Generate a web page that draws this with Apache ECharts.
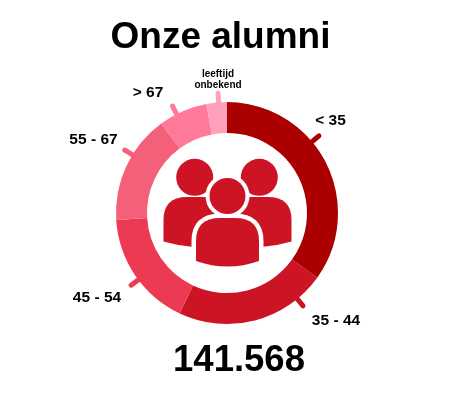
<!DOCTYPE html>
<html>
<head>
<meta charset="utf-8">
<style>html,body{margin:0;padding:0;background:#fff}#c{width:450px;height:397px}</style>
<script src="https://cdn.jsdelivr.net/npm/echarts@6/dist/echarts.min.js"></script>
</head>
<body>
<div id="c"></div>
<script>
const categories = ['< 35', '35 - 44', '45 - 54', '55 - 67', '> 67', 'leeftijd\nonbekend'];
const shares = [34.9, 22.1, 17.0, 15.9, 7.1, 3.0];
const colours = ['#AA0000', '#CC1424', '#EC3A52', '#F4607A', '#FF7A98', '#FFA0BC'];
const titleText = 'Onze alumni';
const totalText = '141.568';

const tickAngles = [50, 140.7, 233, 301.6, 333, 355.7];
const labelCentres = [[330.5, 121], [336, 320.5], [97, 297.5], [93.5, 139.5], [148, 93], [218, 80]];
const cx = 227, cy = 213, rOuter = 111, rInner = 80, rTick = 120;
const iconRed = '#CC1424';

function polar(r, deg) {
  const a = deg * Math.PI / 180;
  return [cx + r * Math.sin(a), cy - r * Math.cos(a)];
}

const leftBody = 'M163.5,241.5 L163.5,220 Q163.5,197 187,197 L215,197 L215,247 L191.7,246.7 Q177,245.5 163.5,241.5 Z';
const rightBody = 'M291.5,241.5 L291.5,220 Q291.5,197 268,197 L240,197 L240,247 L263.3,246.7 Q278,245.5 291.5,241.5 Z';
const midBody = 'M196,261 L196,241 Q196,218 220,218 L235,218 Q259,218 259,241 L259,261 Q227.5,272 196,261 Z';

function renderIcon() {
  return {
    type: 'group',
    children: [
      { type: 'circle', shape: { cx: 194.7, cy: 177.3, r: 18.5 }, style: { fill: iconRed } },
      { type: 'circle', shape: { cx: 259.3, cy: 177.3, r: 18.5 }, style: { fill: iconRed } },
      { type: 'path', shape: { pathData: leftBody }, style: { fill: iconRed } },
      { type: 'path', shape: { pathData: rightBody }, style: { fill: iconRed } },
      { type: 'path', shape: { pathData: midBody }, style: { fill: '#fff', stroke: '#fff', lineWidth: 9 } },
      { type: 'path', shape: { pathData: midBody }, style: { fill: iconRed } },
      { type: 'circle', shape: { cx: 227.5, cy: 196, r: 22 }, style: { fill: '#fff' } },
      { type: 'circle', shape: { cx: 227.5, cy: 196, r: 18 }, style: { fill: iconRed } }
    ]
  };
}

const chart = echarts.init(document.getElementById('c'), null, { renderer: 'canvas' });
chart.setOption({
  animation: false,
  backgroundColor: '#fff',
  title: [
    { text: titleText, left: 215.5, top: 33, textAlign: 'center', textVerticalAlign: 'middle',
      textStyle: { fontFamily: 'Liberation Sans', fontWeight: 'bold', fontSize: 37, color: '#000' } },
    { text: totalText, left: 234, top: 356, textAlign: 'center', textVerticalAlign: 'middle',
      textStyle: { fontFamily: 'Liberation Sans', fontWeight: 'bold', fontSize: 36.5, color: '#000' } }
  ],
  series: [{
    type: 'pie',
    center: [cx, cy],
    radius: [rInner, rOuter],
    startAngle: 90,
    clockwise: true,
    silent: true,
    data: categories.map((name, i) => ({
      name, value: shares[i],
      itemStyle: { color: colours[i] },
      label: i === 5 ? { fontSize: 10, lineHeight: 11 } : {}
    })),
    label: {
      show: true, position: 'outside', formatter: '{b}',
      fontFamily: 'Liberation Sans', fontWeight: 'bold', fontSize: 15.5, color: '#000'
    },
    labelLine: { show: true, length: 8, length2: 4, lineStyle: { width: 5, cap: 'round' } },
    labelLayout: function (p) {
      const i = p.dataIndex, a = tickAngles[i];
      return {
        x: labelCentres[i][0], y: labelCentres[i][1],
        align: 'center', verticalAlign: 'middle', hideOverlap: false,
        labelLinePoints: [polar(rOuter - 1, a), polar((rOuter + rTick) / 2, a), polar(rTick, a)]
      };
    }
  }, {
    type: 'custom',
    coordinateSystem: 'none',
    silent: true,
    z: 5,
    data: [0],
    renderItem: renderIcon
  }]
});
</script>
</body>
</html>
